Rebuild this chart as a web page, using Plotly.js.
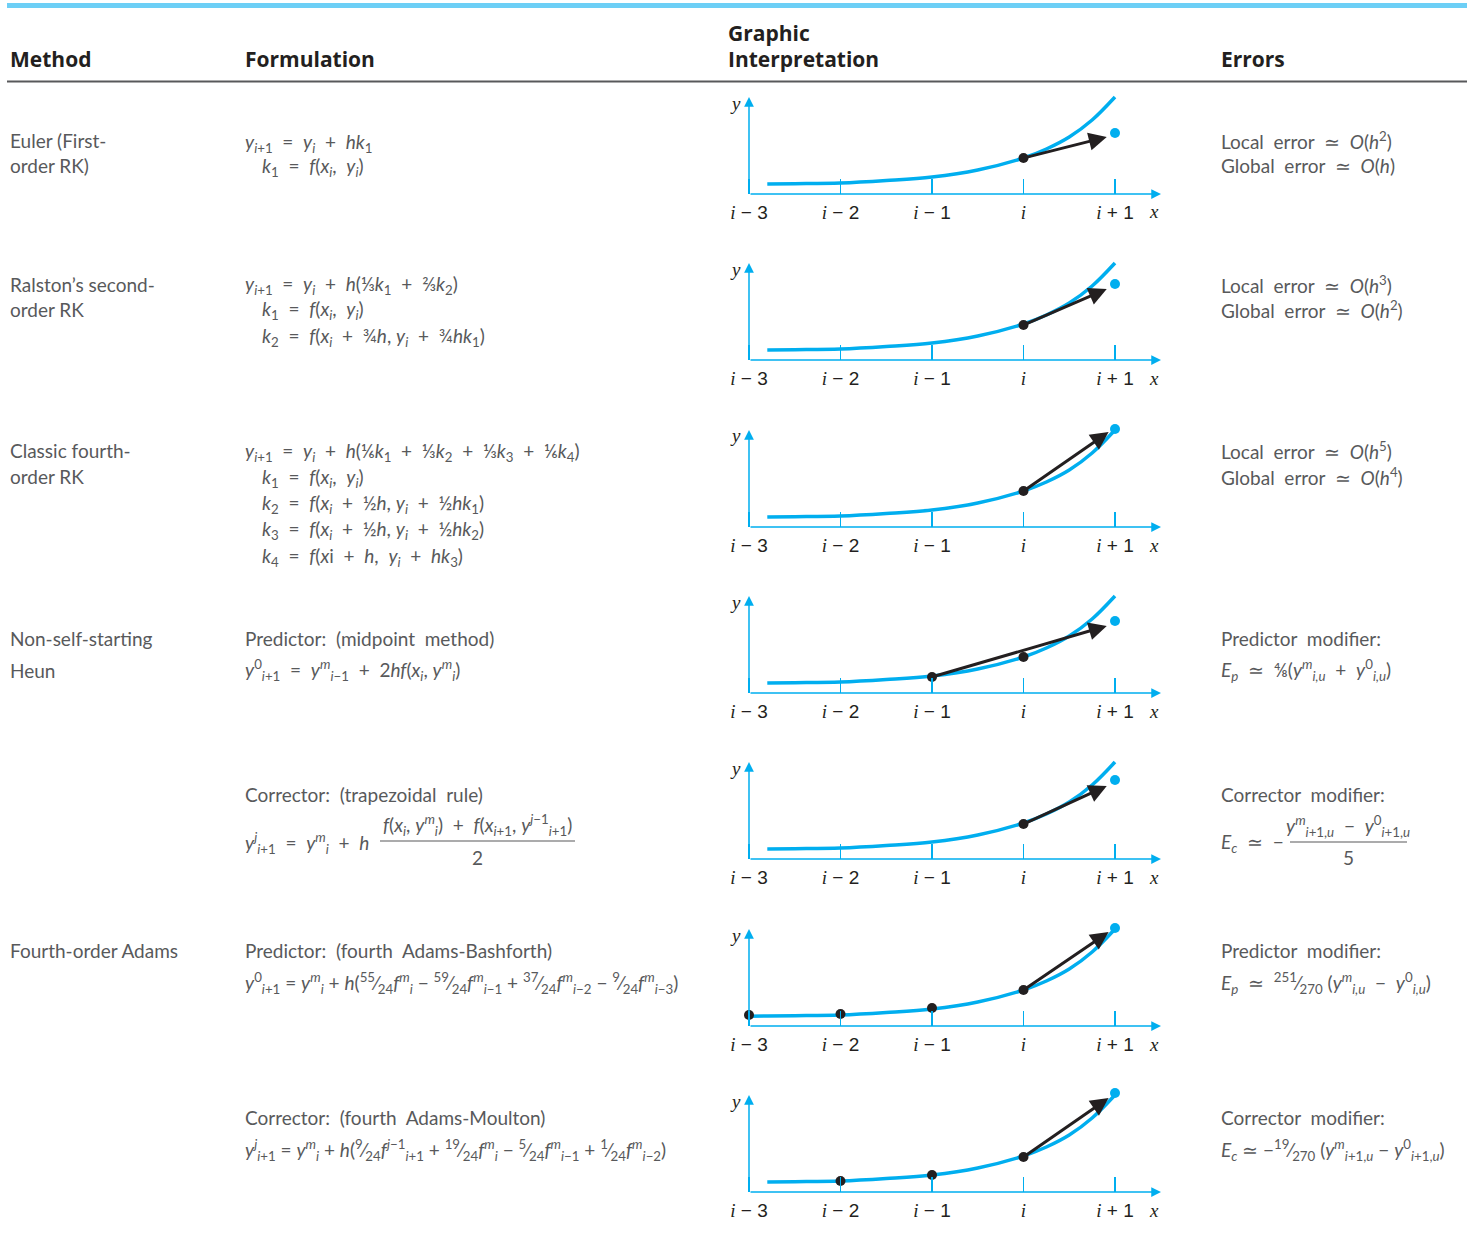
<!DOCTYPE html>
<html><head><meta charset="utf-8">
<script src="https://cdn.plot.ly/plotly-3.0.1.min.js"></script>
<style>html,body{margin:0;padding:0;background:#fff}#chart{width:1467px;height:1247px}</style>
</head><body><div id="chart"></div>
<script>
// ---------- DATA ----------
// x positions: 0 = i-3, 1 = i-2, 2 = i-1, 3 = i, 4 = i+1 ; y = height above baseline (arbitrary units)
const tickValues = [0, 1, 2, 3, 4];
const tickLabels = ['i − 3', 'i − 2', 'i − 1', 'i', 'i + 1'];
const curveX = [0, 0.2, 0.5, 1.0, 1.5, 2.0, 2.5, 3.0, 3.25, 3.5, 3.75, 4.0];
const curveY = [9.8, 10, 10.3, 11, 13.5, 17, 24, 36, 45, 57, 74, 97];
const curveStart = [0.2, 0.2, 0.2, 0.2, 0.2, 0, 0.2];
const blackDotsX = [[3], [3], [3], [2, 3], [3], [0, 1, 2, 3], [1, 2, 3]];
const blackDotsY = [[36], [35], [36], [16, 36], [35], [11, 12, 18, 36], [11, 17, 35]];
const blueDotX = [4, 4, 4, 4, 4, 4, 4];
const blueDotY = [61, 76, 98, 72, 79, 98, 99];
const arrowFromX = [3, 3, 3, 2, 3, 3, 3];
const arrowFromY = [36, 35, 36, 16, 35, 36, 35];
const arrowToX = [3.91, 3.91, 3.93, 3.91, 3.91, 3.93, 3.93];
const arrowToY = [57, 71, 95, 67, 73, 94, 94];

const headers = ['Method', 'Formulation', 'Graphic', 'Interpretation', 'Errors'];
const methodLines = ['Euler (First-', 'order RK)', 'Ralston’s second-', 'order RK', 'Classic fourth-', 'order RK',
  'Non-self-starting', 'Heun', 'Fourth-order Adams'];

// ---------- helpers ----------
const W = 1467, H = 1247;
const px = x => x / W, py = y => 1 - y / H;
const I = s => `<i>${s}</i>`, sb = s => `<sub>${s}</sub>`, sp = s => `<sup>${s}</sup>`;
const fr = (a, b) => `<sup>${a}</sup>⁄<sub>${b}</sub>`;
const yi1 = I('y') + sb(I('i') + '+1');
const yi = I('y') + sb(I('i'));
const xi = I('x') + sb(I('i'));
const k = n => I('k') + sb(n);
const ymi = I('y') + sp(I('m')) + sb(I('i'));
const fm = s => I('f') + sp(I('m')) + sb(s);
const S = '  '; // wide operator spacing

const formulaLines = [
  [245, 143, `${yi1}${S}=${S}${yi}${S}+${S}${I('h')}${k(1)}`],
  [262, 167, `${k(1)}${S}=${S}${I('f')}(${xi},  ${yi})`],
  [245, 285, `${yi1}${S}=${S}${yi}${S}+${S}${I('h')}(⅓${k(1)}${S}+${S}⅔${k(2)})`],
  [262, 310, `${k(1)}${S}=${S}${I('f')}(${xi},  ${yi})`],
  [262, 337, `${k(2)}${S}=${S}${I('f')}(${xi}${S}+${S}¾${I('h')}, ${yi}${S}+${S}¾${I('h')}${k(1)})`],
  [245, 452, `${yi1}${S}=${S}${yi}${S}+${S}${I('h')}(⅙${k(1)}${S}+${S}⅓${k(2)}${S}+${S}⅓${k(3)}${S}+${S}⅙${k(4)})`],
  [262, 478, `${k(1)}${S}=${S}${I('f')}(${xi},  ${yi})`],
  [262, 504, `${k(2)}${S}=${S}${I('f')}(${xi}${S}+${S}½${I('h')}, ${yi}${S}+${S}½${I('h')}${k(1)})`],
  [262, 530, `${k(3)}${S}=${S}${I('f')}(${xi}${S}+${S}½${I('h')}, ${yi}${S}+${S}½${I('h')}${k(2)})`],
  [262, 557, `${k(4)}${S}=${S}${I('f')}(${I('x')}i${S}+${S}${I('h')},  ${yi}${S}+${S}${I('h')}${k(3)})`],
  [245, 638, 'Predictor:  (midpoint  method)'],
  [245, 670, `${I('y')}${sp('0')}${sb(I('i') + '+1')}${S}=${S}${I('y')}${sp(I('m'))}${sb(I('i') + '−1')}${S}+${S}2${I('hf')}(${xi}, ${ymi})`],
  [245, 795, 'Corrector:  (trapezoidal  rule)'],
  [245, 843, `${I('y')}${sp(I('j'))}${sb(I('i') + '+1')}${S}=${S}${ymi}${S}+${S}${I('h')}`],
  [245, 950, 'Predictor:  (fourth  Adams-Bashforth)'],
  [245, 983, `${I('y')}${sp('0')}${sb(I('i') + '+1')} = ${ymi} + ${I('h')}(${fr(55, 24)}${fm(I('i'))} − ${fr(59, 24)}${fm(I('i') + '−1')} + ${fr(37, 24)}${fm(I('i') + '−2')} − ${fr(9, 24)}${fm(I('i') + '−3')})`],
  [245, 1117, 'Corrector:  (fourth  Adams-Moulton)'],
  [245, 1150, `${I('y')}${sp(I('j'))}${sb(I('i') + '+1')} = ${ymi} + ${I('h')}(${fr(9, 24)}${I('f')}${sp(I('j') + '−1')}${sb(I('i') + '+1')} + ${fr(19, 24)}${fm(I('i'))} − ${fr(5, 24)}${fm(I('i') + '−1')} + ${fr(1, 24)}${fm(I('i') + '−2')})`]
];
const errorLines = [
  [1221, 140, `Local  error  ≃  ${I('O')}(${I('h')}${sp('2')})`],
  [1221, 165, `Global  error  ≃  ${I('O')}(${I('h')})`],
  [1221, 284, `Local  error  ≃  ${I('O')}(${I('h')}${sp('3')})`],
  [1221, 309, `Global  error  ≃  ${I('O')}(${I('h')}${sp('2')})`],
  [1221, 451, `Local  error  ≃  ${I('O')}(${I('h')}${sp('5')})`],
  [1221, 476, `Global  error  ≃  ${I('O')}(${I('h')}${sp('4')})`],
  [1221, 638, 'Predictor  modifier:'],
  [1221, 670, `${I('E')}${sb(I('p'))}  ≃  ⅘(${I('y')}${sp(I('m'))}${sb(I('i,u'))}  +  ${I('y')}${sp('0')}${sb(I('i,u'))})`],
  [1221, 795, 'Corrector  modifier:'],
  [1221, 843, `${I('E')}${sb(I('c'))}  ≃  −`],
  [1221, 950, 'Predictor  modifier:'],
  [1221, 983, `${I('E')}${sb(I('p'))}  ≃  ${fr(251, 270)} (${I('y')}${sp(I('m'))}${sb(I('i,u'))}  −  ${I('y')}${sp('0')}${sb(I('i,u'))})`],
  [1221, 1117, 'Corrector  modifier:'],
  [1221, 1150, `${I('E')}${sb(I('c'))} ≃ −${fr(19, 270)} (${I('y')}${sp(I('m'))}${sb(I('i') + '+1,' + I('u'))} − ${I('y')}${sp('0')}${sb(I('i') + '+1,' + I('u'))})`]
];

// ---------- layout ----------
const CYAN = '#00aeef', BLACK = '#231f20', GRAY = '#58595b';
const BODY = 'Lato, "Noto Sans", sans-serif';
const baselines = [194, 360, 527, 693, 859, 1026, 1192];
const unit = 91.5, origin = 749;

const traces = [];
const annotations = [];
const shapes = [
  {type: 'rect', xref: 'paper', yref: 'paper', x0: px(7), x1: px(1467), y0: py(8), y1: py(3), fillcolor: '#6dcff6', line: {width: 0}},
  {type: 'line', xref: 'paper', yref: 'paper', x0: px(7), x1: px(1467), y0: py(81.5), y1: py(81.5), line: {color: GRAY, width: 2}},
  {type: 'line', xref: 'paper', yref: 'paper', x0: px(380), x1: px(575), y0: py(841), y1: py(841), line: {color: GRAY, width: 1.2}},
  {type: 'line', xref: 'paper', yref: 'paper', x0: px(1290), x1: px(1407), y0: py(842), y1: py(842), line: {color: GRAY, width: 1.2}}
];
const layout = {
  width: W, height: H, margin: {l: 0, r: 0, t: 0, b: 0},
  paper_bgcolor: '#fff', plot_bgcolor: 'rgba(0,0,0,0)', showlegend: false,
  annotations, shapes
};

const fmtTick = s => s.replace(/^i/, '<i><span style="font-family:Liberation Serif">i</span></i>');

for (let g = 0; g < 7; g++) {
  const n = g === 0 ? '' : String(g + 1);
  const xa = 'x' + n, ya = 'y' + n;
  const B = baselines[g];
  layout['xaxis' + n] = {
    domain: [px(730), px(1170)], range: [(730 - origin) / unit, (1170 - origin) / unit], anchor: ya,
    tickmode: 'array', tickvals: tickValues, ticktext: tickLabels.map(fmtTick),
    ticks: 'inside', ticklen: 15, tickwidth: 1.5, tickcolor: CYAN, ticklabelstandoff: 5,
    showgrid: false, zeroline: false, showline: false, fixedrange: true,
    tickfont: {family: 'Liberation Sans, Arial, sans-serif', size: 19, color: BLACK}
  };
  layout['yaxis' + n] = {domain: [py(B), py(B - 110)], range: [0, 110], anchor: xa, visible: false, fixedrange: true};

  const cx = [], cy = [];
  curveX.forEach((v, j) => { if (v >= curveStart[g]) { cx.push(v); cy.push(curveY[j]); } });
  traces.push({x: cx, y: cy, xaxis: xa, yaxis: ya, mode: 'lines', line: {color: CYAN, width: 3.5, shape: 'spline'}, hoverinfo: 'skip', cliponaxis: false});
  traces.push({x: blackDotsX[g], y: blackDotsY[g], xaxis: xa, yaxis: ya, mode: 'markers', marker: {color: BLACK, size: 10}, hoverinfo: 'skip', cliponaxis: false});
  traces.push({x: [blueDotX[g]], y: [blueDotY[g]], xaxis: xa, yaxis: ya, mode: 'markers', marker: {color: CYAN, size: 10}, hoverinfo: 'skip', cliponaxis: false});

  // axes arrows
  annotations.push({xref: xa, yref: ya, axref: xa, ayref: ya, x: (1161 - origin) / unit, y: 0, ax: 0, ay: 0, text: '', showarrow: true, arrowhead: 2, arrowsize: 1.3, arrowwidth: 1.5, arrowcolor: CYAN});
  annotations.push({xref: xa, yref: ya, axref: xa, ayref: ya, x: 0, y: 97, ax: 0, ay: 0, text: '', showarrow: true, arrowhead: 2, arrowsize: 1.3, arrowwidth: 1.5, arrowcolor: CYAN});
  // method arrow
  annotations.push({xref: xa, yref: ya, axref: xa, ayref: ya, x: arrowToX[g], y: arrowToY[g], ax: arrowFromX[g], ay: arrowFromY[g], text: '', showarrow: true, arrowhead: 2, arrowsize: 1.2, arrowwidth: 3, arrowcolor: BLACK});
  // axis letters
  annotations.push({xref: xa, yref: 'paper', x: (1154 - origin) / unit, y: py(B + 18), xanchor: 'center', yanchor: 'middle', text: '<i>x</i>', showarrow: false, font: {family: 'Liberation Serif, serif', size: 19, color: BLACK}});
  annotations.push({xref: xa, yref: 'paper', x: (735 - origin) / unit, y: py(B - 91), xanchor: 'center', yanchor: 'middle', text: '<i>y</i>', showarrow: false, font: {family: 'Liberation Serif, serif', size: 19, color: BLACK}});
}

const txt = (x, y, text, o = {}) => annotations.push(Object.assign({
  xref: 'paper', yref: 'paper', x: px(x - 2), y: py(y), xanchor: 'left', yanchor: 'middle', text, showarrow: false,
  font: {family: BODY, size: 19, color: GRAY}
}, o));
const HF = {family: '"Open Sans", Lato, sans-serif', size: 21, color: BLACK, weight: 800};
txt(10, 59, '<b>' + headers[0] + '</b>', {font: HF});
txt(245, 59, '<b>' + headers[1] + '</b>', {font: HF});
txt(728, 33, '<b>' + headers[2] + '</b>', {font: HF});
txt(728, 59, '<b>' + headers[3] + '</b>', {font: HF});
txt(1221, 59, '<b>' + headers[4] + '</b>', {font: HF});

const methodY = [140, 165, 284, 309, 451, 476, 638, 670, 950];
methodLines.forEach((s, j) => txt(10, methodY[j], s));
formulaLines.forEach(([x, y, s]) => txt(x, y, s));
errorLines.forEach(([x, y, s]) => txt(x, y, s));
// big fractions
txt(479, 825, `${I('f')}(${xi}, ${ymi})${S}+${S}${I('f')}(${I('x')}${sb(I('i') + '+1')}, ${I('y')}${sp(I('j') + '−1')}${sb(I('i') + '+1')})`, {xanchor: 'center'});
txt(479, 857, '2', {xanchor: 'center'});
txt(1350, 826, `${I('y')}${sp(I('m'))}${sb(I('i') + '+1,' + I('u'))}  −  ${I('y')}${sp('0')}${sb(I('i') + '+1,' + I('u'))}`, {xanchor: 'center'});
txt(1350, 857, '5', {xanchor: 'center'});

Plotly.newPlot('chart', traces, layout, {staticPlot: true, displayModeBar: false});
</script></body></html>
